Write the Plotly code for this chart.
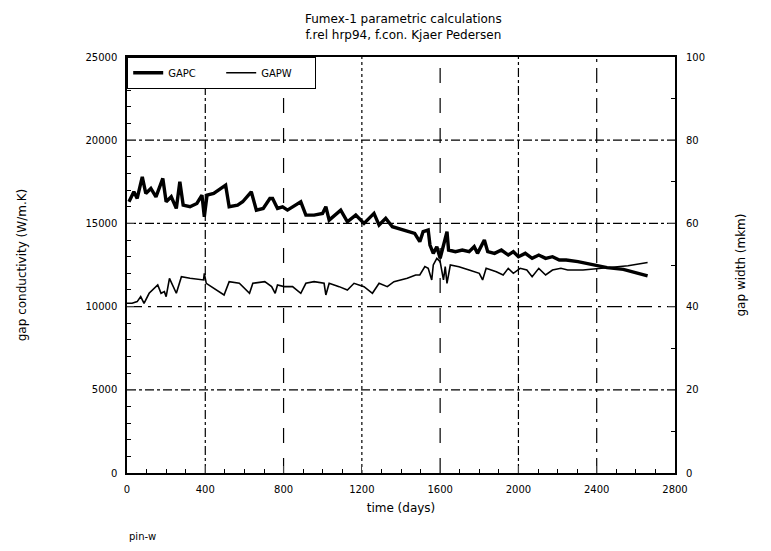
import plotly.graph_objects as go

# ---- data ----
gapc_days = [10, 35, 52, 78, 96, 122, 148, 183, 200, 226, 252, 270, 287, 322, 357, 383, 395, 409, 443,
             504, 522, 565, 591, 635, 661, 696, 730, 744, 769, 795, 820, 846, 888, 914, 956, 999, 1016,
             1033, 1092, 1126, 1169, 1211, 1262, 1288, 1322, 1356, 1415, 1470, 1496, 1513, 1539, 1548,
             1565, 1583, 1600, 1617, 1635, 1643, 1678, 1713, 1748, 1774, 1791, 1826, 1843, 1878, 1913,
             1948, 1974, 2000, 2035, 2070, 2104, 2139, 2174, 2209, 2244, 2304, 2370, 2453, 2536, 2602, 2660]
gapc_vals = [16300, 16900, 16500, 17800, 16800, 17100, 16600, 17700, 16300, 16600, 15900, 17500, 16100,
             16000, 16200, 16700, 15400, 16700, 16800, 17300, 16000, 16100, 16300, 16900, 15800, 15900,
             16500, 16500, 15900, 16000, 15800, 16000, 16300, 15500, 15500, 15600, 16000, 15200, 15800,
             15100, 15500, 15000, 15600, 14900, 15300, 14800, 14600, 14400, 13900, 14500, 14600, 13700,
             13200, 13600, 12900, 13700, 14500, 13400, 13300, 13400, 13300, 13600, 13200, 14000, 13300,
             13200, 13400, 13100, 13300, 13000, 13200, 12900, 13100, 12900, 13000, 12800, 12800, 12700,
             12540, 12340, 12240, 12040, 11840]

gapw_days = [0, 26, 52, 70, 87, 113, 157, 174, 191, 200, 217, 252, 278, 322, 391, 395, 405, 443, 496,
             522, 574, 626, 643, 704, 739, 757, 769, 803, 846, 888, 914, 956, 1007, 1016, 1033, 1084,
             1126, 1160, 1211, 1254, 1288, 1330, 1364, 1432, 1475, 1496, 1522, 1539, 1557, 1565, 1583,
             1600, 1617, 1626, 1635, 1652, 1696, 1748, 1800, 1817, 1835, 1887, 1922, 1948, 1974, 2009,
             2043, 2070, 2104, 2139, 2174, 2217, 2252, 2330, 2450, 2560, 2660]
gapw_vals = [40.8, 40.8, 41.2, 42.4, 40.8, 43.2, 45.2, 43.2, 43.6, 42.4, 46.8, 43.2, 47.2, 46.8, 46.4,
             48.0, 45.6, 44.4, 42.8, 46.0, 45.6, 43.2, 45.6, 46.0, 44.8, 43.2, 45.2, 44.8, 44.8, 43.2,
             45.6, 46.0, 45.6, 42.8, 45.6, 44.8, 44.0, 45.6, 44.8, 43.2, 45.6, 44.8, 46.0, 46.8, 47.6,
             47.6, 49.6, 49.2, 46.4, 50.0, 51.6, 50.8, 46.4, 49.6, 45.6, 50.0, 49.6, 48.8, 48.0, 46.4,
             49.2, 48.4, 47.6, 49.2, 48.0, 49.2, 48.8, 47.2, 49.2, 47.6, 48.8, 49.2, 48.8, 48.8, 49.4,
             49.8, 50.6]

x_ticks = [0, 400, 800, 1200, 1600, 2000, 2400, 2800]
y_ticks = [0, 5000, 10000, 15000, 20000, 25000]
y2_ticks = [0, 20, 40, 60, 80, 100]
x_grid = [400, 800, 1200, 1600, 2000, 2400]
x_grid_dash = ["dashdot", "longdash", "dot", "longdash", "dashdot", "longdashdot"]
y_grid = [5000, 10000, 15000, 20000]
y_grid_dash = ["dashdot", "longdashdot", "dashdot", "dashdot"]

FONT = "DejaVu Sans"

fig = go.Figure()
fig.add_trace(go.Scatter(x=gapc_days, y=gapc_vals, mode="lines", name="GAPC",
                         line=dict(color="black", width=3.4), yaxis="y"))
fig.add_trace(go.Scatter(x=gapw_days, y=gapw_vals, mode="lines", name="GAPW",
                         line=dict(color="black", width=1.6), yaxis="y2"))

shapes = []
for v, d in zip(x_grid, x_grid_dash):
    shapes.append(dict(type="line", xref="x", yref="paper", x0=v, x1=v, y0=0, y1=1,
                       line=dict(color="black", width=1.2, dash=d), layer="below"))
for v, d in zip(y_grid, y_grid_dash):
    shapes.append(dict(type="line", xref="paper", yref="y", x0=0, x1=1, y0=v, y1=v,
                       line=dict(color="black", width=1.2, dash=d), layer="below"))

fig.update_layout(
    width=771, height=551,
    margin=dict(l=127, r=96, t=57, b=78),
    paper_bgcolor="white", plot_bgcolor="white",
    font=dict(family=FONT, color="black", size=11),
    shapes=shapes,
    showlegend=True,
    legend=dict(x=0, y=1, xanchor="left", yanchor="top", orientation="h",
                bgcolor="white", bordercolor="black", borderwidth=1.2,
                font=dict(size=10), itemwidth=30, entrywidth=48,
                tracegroupgap=0),
    xaxis=dict(range=[0, 2800], tickvals=x_ticks, ticks="inside", ticklen=7, tickwidth=1.2,
               showgrid=False, zeroline=False, showline=True, linecolor="black", linewidth=1.5,
               mirror=True, title=dict(text="time (days)", font=dict(size=12), standoff=10),
               minor=dict(dtick=100, ticks="inside", ticklen=4, tickcolor="black"),
               tickfont=dict(size=10), ticklabelstandoff=6),
    yaxis=dict(range=[0, 25000], tickvals=y_ticks, tickformat="d", ticks="inside", ticklen=7,
               tickwidth=1.2, showgrid=False, zeroline=False, showline=True, linecolor="black",
               linewidth=1.5, mirror=True,
               title=dict(text="gap conductivity (W/m.K)", font=dict(size=12), standoff=56),
               minor=dict(dtick=1000, ticks="inside", ticklen=4, tickcolor="black"),
               tickfont=dict(size=10), ticklabelstandoff=6),
    yaxis2=dict(range=[0, 100], tickvals=y2_ticks, ticks="inside", ticklen=7, tickwidth=1.2,
                overlaying="y", side="right", showgrid=False, zeroline=False,
                title=dict(text="gap width (mkm)", font=dict(size=12), standoff=32),
                minor=dict(dtick=10, ticks="inside", ticklen=4, tickcolor="black"),
                tickfont=dict(size=10), ticklabelstandoff=10),
    annotations=[
        dict(text="Fumex-1 parametric calculations<br>f.rel hrp94, f.con. Kjaer Pedersen",
             xref="paper", yref="paper", x=0.505, y=1, yshift=13, xanchor="center", yanchor="bottom",
             showarrow=False, font=dict(size=12)),
        dict(text="pin-w", xref="paper", yref="paper", x=0, y=0, yshift=-56, xanchor="left",
             yanchor="top", showarrow=False, font=dict(size=10)),
    ],
)

fig.write_html("out.html")
